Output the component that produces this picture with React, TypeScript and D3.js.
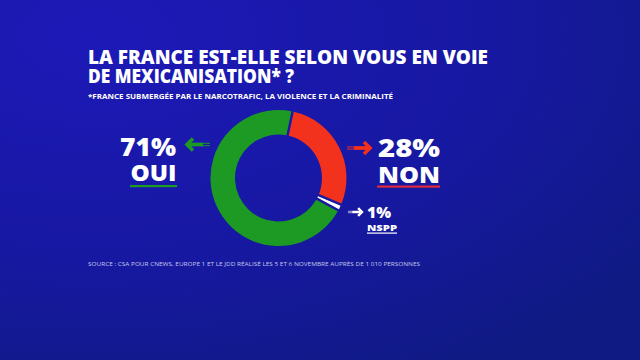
import * as d3 from 'd3';

// poll answers, clockwise from the top
const answers = ['NON', 'NSPP', 'OUI'];
const shares = [28, 1, 71];
const sliceColors = ['#f3321d', '#ffffff', '#1c9a24'];

const titleLines = ['LA FRANCE EST-ELLE SELON VOUS EN VOIE', 'DE MEXICANISATION* ?'];
const footnote = '*FRANCE SUBMERGÉE PAR LE NARCOTRAFIC, LA VIOLENCE ET LA CRIMINALITÉ';
const sourceText = 'SOURCE : CSA POUR CNEWS, EUROPE 1 ET LE JDD RÉALISÉ LES 5 ET 6 NOVEMBRE AUPRÈS DE 1 010 PERSONNES';

const W = 640;
const H = 360;
const CX = 278.5;
const CY = 178;
const R_OUT = 68;
const R_IN = 43.5;
const START = (12 * Math.PI) / 180;

const FONT = "'Open Sans', 'DejaVu Sans', sans-serif";

function Arrow({ x1, x2, y, color, dir, size = 1 }: { x1: number; x2: number; y: number; color: string; dir: 1 | -1; size?: number }) {
  // x1 = tail, x2 = tip
  const head = 6 * size;
  const tip = x2;
  const back = tip - dir * head;
  const len = Math.abs(x2 - x1);
  const solidEnd = x1 + dir * len * 0.3;
  return (
    <g stroke={color} fill="none" strokeLinecap="butt">
      <line x1={solidEnd} y1={y} x2={tip - dir * 2} y2={y} strokeWidth={3.8 * size} />
      <line x1={x1} y1={y - 1.1 * size} x2={solidEnd} y2={y - 1.1 * size} strokeWidth={1.2 * size} strokeOpacity={0.8} />
      <line x1={x1} y1={y + 1.1 * size} x2={solidEnd} y2={y + 1.1 * size} strokeWidth={1.2 * size} strokeOpacity={0.8} />
      <polyline
        points={`${back},${y - head} ${tip},${y} ${back},${y + head}`}
        strokeWidth={3.6 * size}
        strokeLinejoin="miter"
      />
    </g>
  );
}

export default function App() {
  const pie = d3
    .pie<number>()
    .sort(null)
    .value((d) => d)
    .startAngle(START)
    .endAngle(START + 2 * Math.PI)
    .padAngle(0.03);
  const arcs = pie(shares);
  const arc = d3.arc<d3.PieArcDatum<number>>().innerRadius(R_IN).outerRadius(R_OUT);

  const pct = (i: number) => `${shares[i]}%`;

  return (
    <svg width={W} height={H} style={{ position: 'absolute', left: 0, top: 0 }} fontFamily={FONT}>
      <defs>
        <radialGradient id="bg" cx="0.15" cy="0.1" r="1.1">
          <stop offset="0" stopColor="#1d19b8" />
          <stop offset="0.55" stopColor="#1718a2" />
          <stop offset="1" stopColor="#0f1a82" />
        </radialGradient>
      </defs>
      <rect width={W} height={H} fill="url(#bg)" />

      {/* title */}
      <g fill="#ffffff" fontWeight={800}>
        <text x={88} y={63.5} fontSize={18.5} textLength={400} lengthAdjust="spacingAndGlyphs">
          {titleLines[0]}
        </text>
        <text x={88} y={83} fontSize={18.5} textLength={206} lengthAdjust="spacingAndGlyphs">
          {titleLines[1]}
        </text>
        <text x={88} y={98.5} fontSize={7} fontWeight={700} textLength={305} lengthAdjust="spacingAndGlyphs">
          {footnote}
        </text>
      </g>

      {/* donut */}
      <g transform={`translate(${CX},${CY})`}>
        {arcs.map((a, i) => (
          <path key={answers[i]} d={arc(a) || ''} fill={sliceColors[i]} />
        ))}
      </g>

      {/* OUI */}
      <g fill="#ffffff" fontWeight={800}>
        <text x={176} y={155.5} fontSize={24} textAnchor="end" textLength={56} lengthAdjust="spacingAndGlyphs">
          {pct(2)}
        </text>
        <text x={176.5} y={180.5} fontSize={23} textAnchor="end" textLength={46} lengthAdjust="spacingAndGlyphs">
          {answers[2]}
        </text>
      </g>
      <rect x={130} y={185} width={47} height={2.2} fill={sliceColors[2]} />
      <Arrow x1={210} x2={187} y={144.5} color={sliceColors[2]} dir={-1} />

      {/* NON */}
      <g fill="#ffffff" fontWeight={800}>
        <text x={378} y={157} fontSize={24} textLength={62} lengthAdjust="spacingAndGlyphs">
          {pct(0)}
        </text>
        <text x={378} y={182.5} fontSize={23} textLength={62} lengthAdjust="spacingAndGlyphs">
          {answers[0]}
        </text>
      </g>
      <rect x={377} y={185.5} width={63} height={2.2} fill="#e2283e" />
      <Arrow x1={347} x2={370} y={148} color={sliceColors[0]} dir={1} />

      {/* NSPP */}
      <g fill="#ffffff" fontWeight={800}>
        <text x={367} y={217.5} fontSize={15} textLength={24} lengthAdjust="spacingAndGlyphs">
          {pct(1)}
        </text>
        <text x={367} y={230.5} fontSize={8.5} textLength={30} lengthAdjust="spacingAndGlyphs">
          {answers[1]}
        </text>
      </g>
      <rect x={367} y={232.5} width={30} height={1.2} fill="#ffffff" />
      <Arrow x1={348} x2={362} y={212} color="#ffffff" dir={1} size={0.65} />

      {/* source */}
      <text x={88} y={265.5} fontSize={6} fill="#c4c8ec" textLength={332} lengthAdjust="spacingAndGlyphs">
        {sourceText}
      </text>
    </svg>
  );
}
